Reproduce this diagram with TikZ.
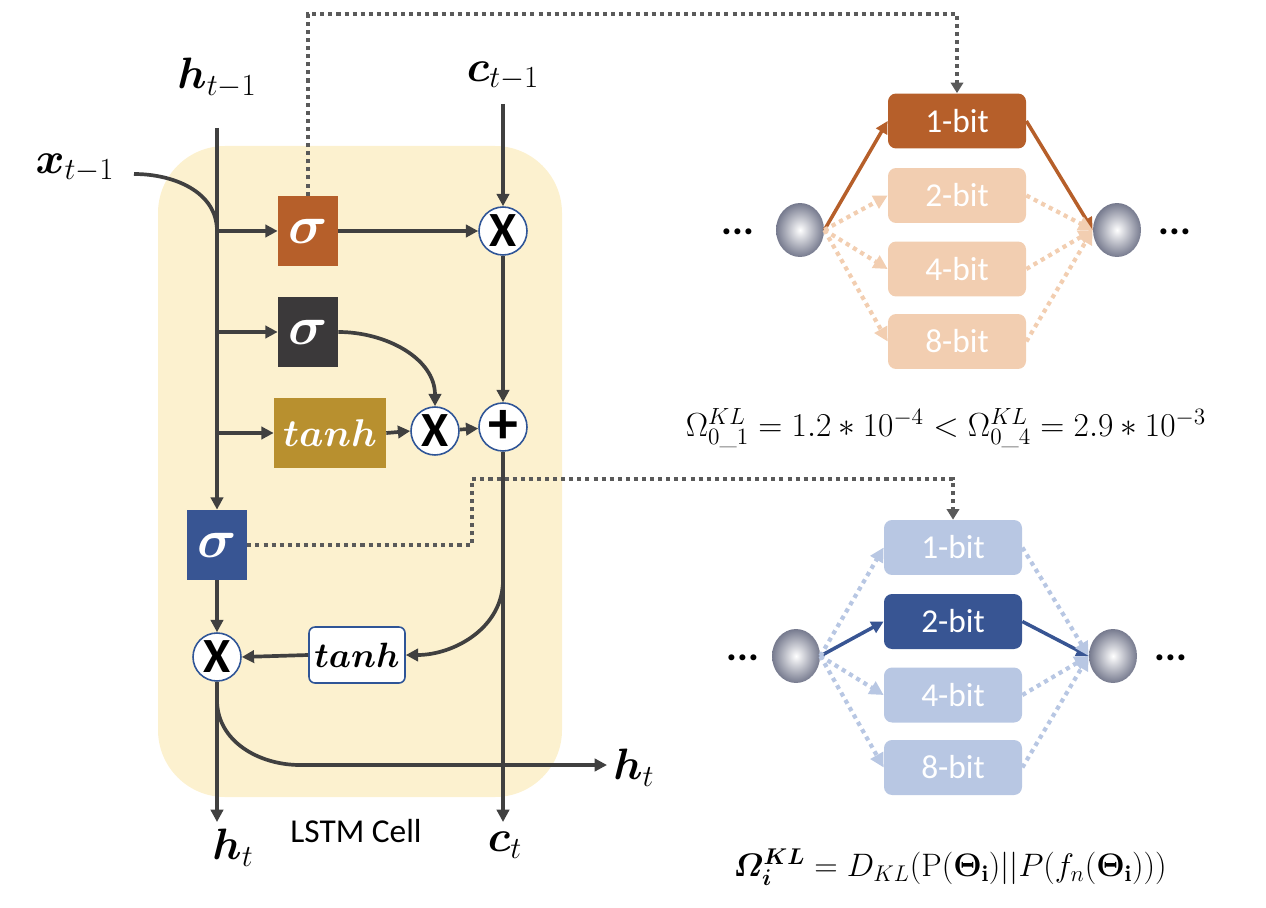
\RequirePackage{fix-cm}
\documentclass[tikz,border=0pt]{standalone}
\usepackage{amsmath}
\usepackage{bm}
\usepackage{fontspec}
\newfontfamily\calib{Carlito}
\usetikzlibrary{arrows.meta,shapes.geometric}
\definecolor{lnc}{HTML}{404040}
\definecolor{orng}{HTML}{B65F2A}
\definecolor{porng}{HTML}{F2CEB1}
\definecolor{dblue}{HTML}{385593}
\definecolor{pblue}{HTML}{B8C7E3}
\definecolor{goldc}{HTML}{B8902F}
\definecolor{dgray}{HTML}{3B393A}
\definecolor{ybg}{HTML}{FCF1CF}
\definecolor{cblue}{HTML}{2F5597}
\definecolor{sphc}{HTML}{767A8E}
\definecolor{dotc}{HTML}{5A5A5A}
\begin{document}
\begin{tikzpicture}[x=0.02cm,y=-0.02cm,
  ln/.style={draw=lnc, line width=2.1pt},
  ar/.style={ln, -{Triangle[length=7pt,width=7pt]}},
  gate/.style={rectangle, minimum width=1.2cm, minimum height=1.4cm, inner sep=0pt, text=white, font=\fontsize{31}{33}\selectfont},
  op/.style={circle, draw=cblue, line width=0.9pt, fill=white, minimum size=0.96cm, inner sep=0pt, font=\calib\bfseries\fontsize{28}{30}\selectfont},
  bitbox/.style={rectangle, rounded corners=0.16cm, minimum width=2.76cm, minimum height=1.1cm, inner sep=0pt, text=white, font=\calib\fontsize{19}{20}\selectfont},
  sphere/.style={ellipse, minimum width=0.96cm, minimum height=1.08cm, inner sep=0pt, inner color=white, outer color=sphc},
  lbl/.style={inner sep=0pt, font=\fontsize{25}{28}\selectfont},
  dots/.style={inner sep=0pt, font=\calib\bfseries\fontsize{23}{24}\selectfont},
  dotconn/.style={draw=dotc, line width=2.3pt, dash pattern=on 2.3pt off 2.3pt, -{Triangle[length=6pt,width=7pt]}},
  selarrow/.style={line width=2pt, -{Triangle[length=7pt,width=7pt]}},
  palearrow/.style={line width=2.4pt, dash pattern=on 2.4pt off 2.4pt, -{Triangle[length=8pt,width=8pt]}},
  formula/.style={inner sep=0pt, font=\fontsize{19}{22}\selectfont}
]
\useasboundingbox (0,0) rectangle (1266,908);

% background of the cell
\fill[ybg, rounded corners=1.34cm] (158,146) rectangle (562,797);

% labels
\node[lbl] (hprev) at (217,78) {$\bm{h}_{t-1}$};
\node[lbl] (cprev) at (503,76) {$\bm{c}_{t-1}$};
\node[lbl] (xprev) at (75,168) {$\bm{x}_{t-1}$};
\node[lbl] (hbot) at (233,848) {$\bm{h}_{t}$};
\node[lbl] (cbot) at (505,845) {$\bm{c}_{t}$};
\node[lbl, anchor=west] (hright) at (613,768) {$\bm{h}_{t}$};
\node[inner sep=0pt, font=\calib\fontsize{19}{20}\selectfont] (cell) at (356,831) {LSTM Cell};

% gates
\node[gate, fill=orng] (sigO) at (308,231) {$\bm{\sigma}$};
\node[gate, fill=dgray] (sigD) at (308,332) {$\bm{\sigma}$};
\node[gate, fill=goldc, minimum width=2.24cm, font=\fontsize{22}{24}\selectfont] (tanhG) at (330,433) {$\bm{tanh}$};
\node[gate, fill=dblue] (sigB) at (217,545) {$\bm{\sigma}$};
\node[rectangle, rounded corners=0.12cm, draw=cblue, line width=0.9pt, fill=white, minimum width=1.92cm, minimum height=1.12cm, inner sep=0pt, font=\fontsize{20}{22}\selectfont] (tanhS) at (357,655) {$\bm{tanh}$};

% operators
\node[op] (x1) at (503,231) {X};
\node[op] (x2) at (435,431) {X};
\node[op, font=\calib\bfseries\fontsize{34}{34}\selectfont] (plus) at (503,427) {+};
\node[op] (x3) at (217,657) {X};

% helper coordinates
\coordinate (htop) at (217,128);
\coordinate (ctop) at (503,104);
\coordinate (xs) at (134,174);
\coordinate (brO) at (217,231);
\coordinate (brD) at (217,332);
\coordinate (brT) at (217,433);
\coordinate (cbr) at (503,580);
\coordinate (ctend) at (503,822);
\coordinate (htend) at (217,822);
\coordinate (hbr) at (217,700);
\coordinate (hbr2) at (300,765);
\coordinate (htr) at (607,765);
\coordinate (dtop) at (600,14);
\coordinate (dbend) at (472,479);

% connectors in the cell
\draw[ar] (htop) -- (sigB.north);
\draw[ln] (xs) to[out=0,in=90] (brO);
\draw[ar] (brO) -- (sigO.west);
\draw[ar] (sigO.east) -- (x1.west);
\draw[ar] (ctop) -- (x1.north);
\draw[ar] (brD) -- (sigD.west);
\draw[ar] (sigD.east) to[out=0,in=90] (x2.north);
\draw[ar] (brT) -- (tanhG.west);
\draw[ar] (tanhG.east) -- (x2.west);
\draw[ar] (x2) -- (plus);
\draw[ar] (x1.south) -- (plus.north);
\draw[ar] (plus.south) -- (ctend);
\draw[ar] (cbr) to[out=-90,in=0] (tanhS.east);
\draw[ar] (tanhS.west) -- (x3.east);
\draw[ar] (sigB.south) -- (x3.north);
\draw[ar] (x3.south) -- (htend);
\draw[ar] (x3.south) -- (hbr) to[out=-90,in=180] (hbr2) -- (htr);

% top-right selection
\node[dots] (dl1) at (738,232) {...};
\node[sphere] (ls1) at (800,230) {};
\node[bitbox, fill=orng] (t1) at (957,121) {1-bit};
\node[bitbox, fill=porng] (t2) at (957,195.5) {2-bit};
\node[bitbox, fill=porng] (t3) at (957,269) {4-bit};
\node[bitbox, fill=porng] (t4) at (957,341.5) {8-bit};
\node[sphere] (rs1) at (1117,230) {};
\node[dots] (dr1) at (1175,232) {...};

\draw[selarrow, orng] (ls1.east) -- (t1.west);
\draw[selarrow, orng] (t1.east) -- (rs1.west);
\foreach \b in {t2,t3,t4}{
  \draw[palearrow, porng] (ls1.east) -- (\b.west);
  \draw[palearrow, porng] (\b.east) -- (rs1.west);
}

\node[formula] (f1) at (946,428) {$\Omega^{KL}_{0\_1} = 1.2 \ast 10^{-4} < \Omega^{KL}_{0\_4} = 2.9 \ast 10^{-3}$};

% bottom-right selection
\node[dots] (dl2) at (743,658) {...};
\node[sphere] (ls2) at (796,656) {};
\node[bitbox, fill=pblue] (u1) at (953,547.5) {1-bit};
\node[bitbox, fill=dblue] (u2) at (953,621.5) {2-bit};
\node[bitbox, fill=pblue] (u3) at (953,695) {4-bit};
\node[bitbox, fill=pblue] (u4) at (953,767.5) {8-bit};
\node[sphere] (rs2) at (1113,656) {};
\node[dots] (dr2) at (1171,658) {...};

\draw[selarrow, dblue] (ls2.east) -- (u2.west);
\draw[selarrow, dblue] (u2.east) -- (rs2.west);
\foreach \b in {u1,u3,u4}{
  \draw[palearrow, pblue] (ls2.east) -- (\b.west);
  \draw[palearrow, pblue] (\b.east) -- (rs2.west);
}

\node[formula, font=\fontsize{18.5}{22}\selectfont] (f2) at (950,867) {$\bm{\varOmega}^{\bm{KL}}_{\bm{i}} = D_{KL}(\mathrm{P}(\bm{\Theta}_{\mathbf{i}})||P(f_n(\bm{\Theta}_{\mathbf{i}})))$};

% dotted links from gates to bit choices
\draw[dotconn] (sigO.north) |- (dtop) -| (t1.north);
\draw[dotconn] (sigB.east) -| (dbend) -| (u1.north);
\end{tikzpicture}
\end{document}
